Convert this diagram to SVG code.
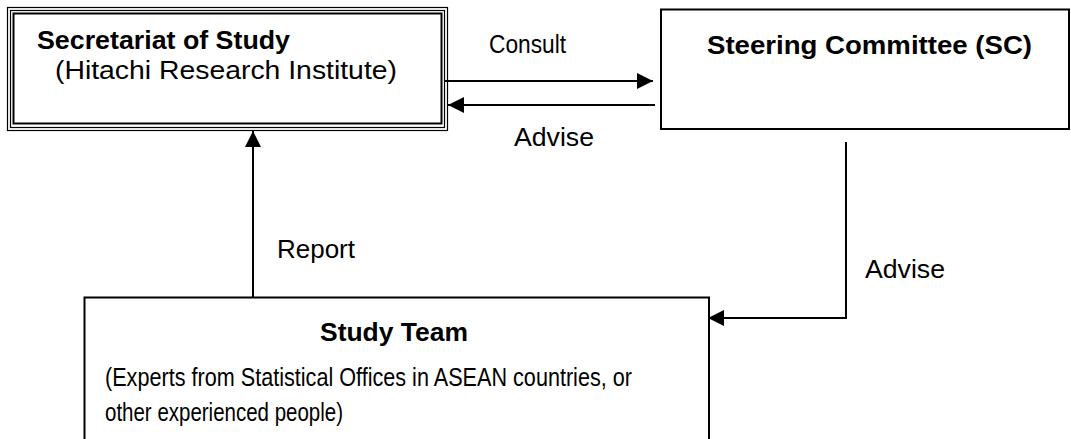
<svg xmlns="http://www.w3.org/2000/svg" width="1071" height="439" viewBox="0 0 1071 439">
<style>
.box{fill:none;stroke:#000;stroke-width:2}
.thin{fill:none;stroke:#000;stroke-width:1.2}
.t{font-family:"Liberation Sans",Arial,sans-serif;font-size:25px;fill:#000}
.b{font-weight:bold;font-size:26px}
.s{font-size:25px}
.c{fill:none;stroke:#000;stroke-width:2}
</style>
<defs>
<marker id="ah" markerUnits="userSpaceOnUse" markerWidth="16" markerHeight="16" viewBox="0 0 14 14" refX="14" refY="7" orient="auto">
<path d="M0,0 L14,7 L0,14 Z" fill="#000"/>
</marker>
</defs>
<rect width="1071" height="439" fill="#fff"/>
<g id="secretariat">
<rect class="thin" x="7.5" y="7.5" width="440" height="123"/>
<rect class="thin" x="10.5" y="10.5" width="434" height="117"/>
<rect class="box" x="13.5" y="13.5" width="428" height="110"/>
<text class="t b" x="37" y="49" textLength="253" lengthAdjust="spacingAndGlyphs">Secretariat of Study</text>
<text class="t" x="55" y="79" textLength="342" lengthAdjust="spacingAndGlyphs">(Hitachi Research Institute)</text>
</g>
<g id="steering">
<rect class="box" x="661" y="9.5" width="408" height="119.5"/>
<text class="t b" x="707" y="54" textLength="325" lengthAdjust="spacingAndGlyphs">Steering Committee (SC)</text>
</g>
<g id="studyteam">
<path class="box" d="M84.5,445 V297.5 H709 V445"/>
<text class="t b" x="320" y="341" textLength="148" lengthAdjust="spacingAndGlyphs">Study Team</text>
<text class="t s" x="105" y="386" textLength="527" lengthAdjust="spacingAndGlyphs">(Experts from Statistical Offices in ASEAN countries, or</text>
<text class="t s" x="105" y="421" textLength="238" lengthAdjust="spacingAndGlyphs">other experienced people)</text>
</g>
<g id="connectors">
<path class="c" d="M444,81 H653" marker-end="url(#ah)"/>
<path class="c" d="M655,105 H448" marker-end="url(#ah)"/>
<path class="c" d="M253,297 V131" marker-end="url(#ah)"/>
<path class="c" d="M846,142 V318 H708" marker-end="url(#ah)"/>
<text class="t" x="489" y="53" textLength="77" lengthAdjust="spacingAndGlyphs">Consult</text>
<text class="t" x="514" y="146" textLength="80" lengthAdjust="spacingAndGlyphs">Advise</text>
<text class="t" x="277" y="258" textLength="78" lengthAdjust="spacingAndGlyphs">Report</text>
<text class="t" x="865" y="278" textLength="80" lengthAdjust="spacingAndGlyphs">Advise</text>
</g>
</svg>
